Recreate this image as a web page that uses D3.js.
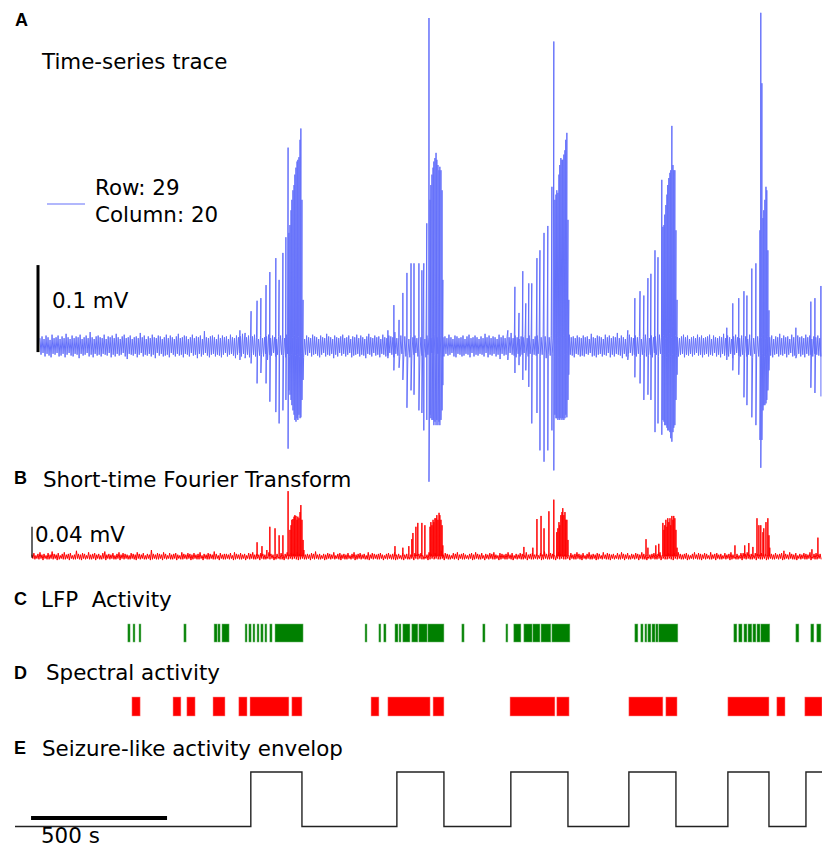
<!DOCTYPE html>
<html><head><meta charset="utf-8">
<script src="https://cdn.jsdelivr.net/npm/d3@7"></script>
<style>body{margin:0;background:#fff} svg{display:block} text{font-family:"DejaVu Sans",sans-serif;white-space:pre}</style>
</head><body><div id="chart"></div>
<script>
// ---------------- DATA ----------------
// Panel A: baseline noise of the time-series trace (µV), regularly sampled
const traceAStart = 92, traceAStep = 7.37; // s
const noiseAUp = [
9,11,8,12,10,7,13,9,10,12,8,11,9,14,10,8,12,9,11,10,13,8,10,12,9,16,10,8,11,12,
10,9,13,8,11,10,12,9,14,10,8,11,13,9,10,12,8,10,11,9,15,10,12,8,11,9,13,10,9,12,
11,8,10,13,9,12,10,8,11,14,9,10,12,11,8,10,13,9,11,10,12,8,17,10,9,11,12,10,8,13,
9,12,10,11,8,13,10,9,12,10,11,14,8,10,12,9,11,13,10,8,12,9,10,11,13,9,12,10,8,11,
12,10,9,13,11,8,10,12,9,11,15,10,8,12,10,9,13,11,10,8,12,10,9,14,11,10,8,12,10,9,
11,13,9,10,12,8,11,10,13,9,12,10,8,11,14,10,9,12,10,11,8,13,10,9,12,11,10,16,9,10,
12,9,11,10,8,13,10,12,9,11,10,14,8,12,10,9,11,13,10,8,12,10,11,9,13,10,8,12,11,9,
10,12,8,11,13,9,10,12,10,8,11,9,14,10,12,9,11,10,8,13,10,12,9,11,10,15,9,12,10,8,
11,10,13,9,12,10,8,11,12,9,10,13,11,8,10,12,9,14,10,11,9,12,10,8,13,10,11,9,12,10,
9,12,10,11,8,14,10,9,12,11,10,8,13,10,12,9,11,10,15,9,12,10,8,11,13,10,9,12,10,11,
8,11,13,10,9,12,10,11,8,13,10,12,9,11,14,10,8,12,10,9,11,13,10,12,8,10,11,9,13,10,
12,9,10,11,13,8,12,10,9,11,10,14,9,12,10,8,11,13,10,9,12,10,11,8,13,10,9,12,11,10,
10,13,9,11,10,12,8,11,10,14,9,12,10,11,8,13,10,9,12,10,11,9,13,10,12,8,11,10,12,9];
const noiseADown = [
10,8,12,9,11,13,9,10,8,12,11,9,13,10,8,11,12,9,10,14,9,11,10,8,12,10,13,9,11,10,
12,9,10,11,8,13,10,12,9,11,10,8,12,15,9,10,11,9,13,10,8,12,10,11,9,12,10,14,8,11,
9,12,11,10,13,8,10,12,9,11,10,13,9,10,12,8,11,10,14,9,12,10,8,11,13,10,9,12,10,11,
13,10,8,12,10,9,11,14,10,8,12,9,11,10,13,9,10,12,8,11,10,12,9,16,10,11,8,12,10,9,
10,11,13,9,12,10,8,11,10,12,9,13,10,11,8,12,10,9,11,13,10,8,12,10,11,9,14,10,12,8,
11,9,12,10,8,13,11,10,9,12,10,11,14,9,10,12,8,11,10,13,9,10,12,11,8,10,13,9,11,12,
9,10,12,11,13,9,10,8,12,10,11,9,13,10,12,8,11,10,9,14,10,12,9,11,10,8,12,13,9,10,
12,11,9,10,13,8,12,10,11,9,10,12,8,13,10,11,9,12,10,15,9,11,10,12,8,10,11,13,9,12,
10,8,11,12,9,13,10,11,9,12,10,8,14,10,11,9,12,10,13,8,11,10,9,12,10,11,13,9,10,12,
11,12,9,10,8,12,11,13,10,9,12,10,11,8,13,10,12,9,10,11,14,9,12,10,8,11,10,12,9,13,
10,9,12,11,10,13,8,10,12,9,11,10,13,9,12,10,8,11,12,10,9,13,10,11,9,12,10,8,11,10,
13,10,9,12,10,11,8,12,10,13,9,11,10,12,9,14,10,8,11,12,10,9,12,10,11,13,9,10,12,11,
9,12,10,8,11,13,10,9,12,10,11,9,13,10,8,12,11,10,9,12,10,13,9,11,10,12,9,10,11,12];
// Panel A: spikes (time s, positive peak µV, negative peak µV)
const spikeT = [
827,846,868,890,904,923,937,959,971,985,996,1004,1007,1011,1015,1018,1022,1026,1029,1033,1037,1040,1044,1048,1051,1055,1059,
1371,1393,1412,1426,1441,1456,1467,1485,1496,1503,1514,1522,1526,1529,1533,1537,1540,1544,1548,1551,1555,1559,1562,1566,1570,1573,
1812,1838,1853,1867,1878,1889,1900,1919,1930,1945,1959,1974,1981,1985,1989,1992,1996,2000,2003,2007,2011,2014,2018,2022,2025,2029,2033,2036,
2253,2279,2298,2312,2327,2338,2353,2364,2378,2382,2386,2389,2393,2397,2400,2404,2408,2411,2415,2419,2422,2426,2430,2434,
2617,2639,2661,2680,2691,2709,2724,2739,2742,2746,2750,2753,2757,2761,2764,2768,2772,
2871,2926,2941,2963];
const spikeUp = [
18,15,40,52,55,70,85,101,76,107,125,228,130,139,156,168,179,185,197,205,212,214,217,237,250,168,53,
18,47,30,61,84,95,95,95,87,95,141,377,168,185,197,205,212,216,222,214,208,202,206,202,179,76,
18,68,38,86,49,72,72,101,110,130,138,183,350,168,174,179,176,197,208,216,214,214,220,225,237,245,145,53,
18,55,63,58,78,83,110,102,191,137,139,151,162,174,185,193,199,202,253,208,202,202,133,53,
21,49,55,63,58,89,95,133,383,302,147,156,168,183,179,110,41,
21,51,55,69];
const spikeDown = [
16,14,20,43,31,43,64,76,89,74,62,118,51,56,62,68,74,79,85,87,83,85,79,83,82,62,39,
14,28,25,39,71,51,56,74,77,97,85,156,79,83,85,85,91,87,91,85,91,87,91,85,74,45,
16,31,22,39,28,47,89,77,120,133,120,97,143,79,83,83,85,83,85,83,85,83,85,83,79,82,62,33,
16,36,43,62,56,62,99,89,102,85,87,91,91,94,97,97,99,106,110,99,94,91,62,33,
16,28,33,59,68,82,91,108,140,108,74,68,68,66,62,51,28,
14,48,54,58];

// Panel B: short-time Fourier transform magnitude (µV), regularly sampled
const traceBStart = 62, traceBStep = 7.45;
const noiseBUp = [
3,5,2,4,6,3,4,2,5,3,7,4,3,5,2,4,6,3,4,5,2,3,8,4,3,5,4,2,6,3,
4,5,3,4,2,5,7,3,4,3,5,2,4,6,3,5,4,3,2,5,4,3,6,4,3,5,2,4,3,9,
4,3,5,4,3,6,4,2,5,3,4,5,3,2,6,4,3,5,4,3,5,3,4,6,2,4,3,5,4,3,
7,4,2,5,3,4,4,3,5,2,6,4,3,5,3,4,2,5,4,6,3,4,3,5,4,3,2,6,4,3,
5,4,3,5,2,4,6,3,5,4,3,6,4,2,5,3,4,3,5,4,7,3,4,2,4,3,5,4,3,6,
2,4,5,3,4,3,5,2,4,6,3,4,5,3,4,2,6,3,5,4,3,4,5,3,2,4,5,3,4,6,
3,4,2,5,3,4,6,3,4,5,3,4,5,2,4,3,6,4,3,5,2,4,8,3,5,4,3,2,5,4,
6,3,4,5,3,2,4,5,3,6,4,3,5,2,4,3,5,4,6,3,2,5,4,3,4,6,3,5,2,4,
3,5,4,2,6,3,4,5,3,4,2,5,3,7,4,3,5,4,2,3,6,4,5,3,4,2,5,3,4,6,
4,3,5,2,4,6,3,4,3,5,4,2,6,3,5,4,3,4,2,5,3,6,4,3,5,2,4,3,5,4,
3,6,4,2,5,3,4,5,3,4,6,2,4,3,5,4,3,5,2,6,4,3,4,5,3,2,4,6,3,5,
4,3,5,4,2,6,3,4,5,3,4,2,5,3,4,6,3,5,4,2,3,5,4,6,3,4,2,5,4,3,
5,3,4,2,6,4,3,5,3,4,5,2,4,3,6,4,3,5,2,4,3,5,4,3,6,2,4,5,3,4];
const noiseBDown = [
2,3,2,3,2,4,2,3,3,2,3,2,4,3,2,3,3,2,4,2,3,3,2,3,4,2,3,2,3,3,
2,4,2,3,3,2,4,2,3,2,3,3,2,4,2,3,2,3,3,2,3,4,2,3,2,3,3,2,4,3,
2,3,3,2,4,2,3,2,3,3,2,4,2,3,3,2,3,2,4,3,2,3,3,2,4,2,3,3,2,3,
3,2,4,2,3,3,2,3,2,4,3,2,3,3,2,4,2,3,2,3,3,2,4,2,3,3,2,3,2,4,
3,2,3,3,4,2,3,2,3,2,3,4,3,2,3,3,2,4,2,3,2,3,3,2,4,3,2,3,2,3,
2,3,4,2,3,3,2,3,2,4,3,2,3,2,3,3,4,2,3,2,3,3,2,4,2,3,2,3,3,4,
3,2,3,4,2,3,3,2,4,2,3,2,3,3,2,4,3,2,3,2,3,3,2,4,2,3,3,2,3,2,
4,2,3,3,2,3,2,4,3,2,3,3,2,4,2,3,2,3,3,2,4,3,2,3,3,2,3,4,2,3,
2,3,3,2,4,2,3,3,2,3,2,4,3,2,3,3,2,3,4,2,3,2,3,3,2,4,2,3,3,2,
3,4,2,3,2,3,3,2,4,3,2,3,2,3,3,4,2,3,2,3,3,2,4,2,3,3,2,3,2,4,
2,3,3,4,2,3,2,3,3,2,4,2,3,3,2,3,4,2,3,2,3,3,2,4,3,2,3,2,3,3,
4,2,3,2,3,3,2,4,2,3,3,2,3,2,4,3,2,3,3,2,4,2,3,2,3,3,2,4,2,3,
3,2,4,3,2,3,3,2,3,2,4,3,2,3,2,3,3,4,2,3,2,3,3,2,4,2,3,3,2,3];
const stftT = [
890,908,926,937,956,971,985,1004,1011,1015,1018,1022,1026,1029,1033,1037,1040,1044,1048,1051,1055,1059,1062,
1397,1426,1448,1459,1463,1474,1481,1496,1507,1526,1529,1533,1537,1540,1544,1548,1551,1555,1559,1562,1566,1570,1573,
1871,1904,1919,1934,1945,1963,1981,1992,1996,2000,2003,2007,2011,2014,2018,2022,2025,2029,2033,
2320,2327,2356,2367,2382,2386,2389,2393,2397,2400,2404,2408,2411,2415,2419,2422,2426,2430,2434,
2647,2669,2683,2698,2713,2728,2735,2742,2750,2753,2761,2768,2772,2775,
2827,2930,2952];
const stftV = [
19,14,9,39,37,28,28,85,35,41,48,49,52,54,53,48,52,50,58,67,48,22,9,
14,12,14,23,31,39,44,44,41,39,45,41,48,45,50,50,54,48,57,54,48,41,15,
13,12,49,53,37,59,74,32,37,45,41,54,58,63,54,58,48,48,22,
23,12,15,17,44,35,41,48,39,50,45,50,41,53,48,53,50,35,12,
15,5,15,18,13,50,41,41,32,37,45,50,28,12,
8,10,25];

// Panel C: LFP activity intervals [start s, end s]
const lfpActivity = [[415,423],[434,441],[456,463],[621,629],[732,743],[746,754],[761,787],
[846,853],[860,868],[875,882],[890,897],[904,912],[919,926],[937,945],[956,1059],
[1287,1294],[1338,1345],[1356,1364],[1397,1408],[1412,1419],[1426,1452],[1459,1481],[1485,1515],[1518,1577],
[1643,1651],[1720,1728],[1805,1812],[1834,1860],[1871,1901],[1904,1930],[1934,1970],[1974,2040],
[2279,2290],[2301,2309],[2316,2323],[2327,2338],[2342,2353],[2356,2364],[2367,2437],
[2643,2654],[2661,2673],[2680,2691],[2695,2709],[2713,2724],[2728,2739],[2742,2775],
[2871,2882],[2926,2937],[2948,2963]];
// Panel D: spectral activity intervals
const spectralActivity = [[430,460],[581,610],[632,662],[728,772],[823,853],[864,1007],[1018,1055],
[1309,1338],[1371,1526],[1537,1577],[1820,1985],[1992,2037],[2257,2382],[2393,2434],
[2621,2772],[2801,2831],[2904,2967]];
// Panel E: seizure-like activity envelope (step function)
const envTimes  = [0, 867, 1055, 1404, 1577, 1823, 2033, 2257, 2430, 2621, 2772, 2908, 2967];
const envValues = [0, 1, 0, 1, 0, 1, 0, 1, 0, 1, 0, 1, 1];

const legendRow = "Row: 29", legendCol = "Column: 20";
const scaleA = 100, scaleB = 40, scaleT = 500; // µV, µV, s

// ---------------- DRAW ----------------
const W = 822, H = 849;
const svg = d3.select("#chart").append("svg").attr("width", W).attr("height", H);

const x = d3.scaleLinear().domain([0, 2967]).range([15, 822]);
const yA = d3.scaleLinear().domain([0, 100]).range([346, 259]);
const yB = d3.scaleLinear().domain([0, 40]).range([557, 526]);
const yE = d3.scaleLinear().domain([0, 1]).range([826.5, 772]);

const blue = "#6470fa";
const FS = 21.4;

// Panel A trace
const ptsA = [];
noiseAUp.forEach((u, i) => {
  const t = traceAStart + i * traceAStep;
  ptsA.push({t, v: u});
  ptsA.push({t: t + traceAStep / 2, v: -noiseADown[i]});
});
spikeT.forEach((t, i) => {
  ptsA.push({t, v: spikeUp[i]});
  ptsA.push({t: t + 0.01, v: -spikeDown[i]});
});
ptsA.sort((a, b) => a.t - b.t);
const lineA = d3.line().x(d => x(d.t)).y(d => yA(d.v));
svg.append("path").attr("d", lineA(ptsA)).attr("fill", "none")
  .attr("stroke", blue).attr("stroke-width", 1);

// Panel B trace
const ptsB = [];
noiseBUp.forEach((u, i) => {
  const t = traceBStart + i * traceBStep;
  ptsB.push({t, v: u});
  ptsB.push({t: t + traceBStep / 2, v: -noiseBDown[i]});
});
stftT.forEach((t, i) => {
  ptsB.push({t: t - 0.4, v: 1});
  ptsB.push({t, v: stftV[i]});
  ptsB.push({t: t + 0.4, v: 1});
});
ptsB.sort((a, b) => a.t - b.t);
const lineB = d3.line().x(d => x(d.t)).y(d => yB(d.v));
svg.append("path").attr("d", lineB(ptsB)).attr("fill", "none")
  .attr("stroke", "#ff0000").attr("stroke-width", 1);

// Scale bars
const tA = x.invert(38);
svg.append("line").attr("x1", x(tA)).attr("x2", x(tA)).attr("y1", yA(-7)).attr("y2", yA(-7 + scaleA))
  .attr("stroke", "#000").attr("stroke-width", 3);
svg.append("text").attr("x", 52).attr("y", 308).attr("font-size", FS).text("0.1 mV");
const tB = x.invert(32);
svg.append("line").attr("x1", x(tB)).attr("x2", x(tB)).attr("y1", yB(-1)).attr("y2", yB(-1 + scaleB))
  .attr("stroke", "#000").attr("stroke-width", 1.2);
svg.append("text").attr("x", 35).attr("y", 542).attr("font-size", FS).text("0.04 mV");

// Legend
svg.append("line").attr("x1", 47).attr("x2", 85).attr("y1", 204).attr("y2", 204)
  .attr("stroke", blue).attr("stroke-width", 1.2);
svg.append("text").attr("x", 95).attr("y", 195).attr("font-size", FS).text(legendRow);
svg.append("text").attr("x", 95).attr("y", 222).attr("font-size", FS).text(legendCol);

// Panel C bars
svg.append("g").selectAll("rect").data(lfpActivity).join("rect")
  .attr("x", d => x(d[0])).attr("width", d => Math.max(1.5, x(d[1]) - x(d[0])))
  .attr("y", 624).attr("height", 18)
  .attr("fill", "#008000").attr("stroke", "#6fb86f").attr("stroke-width", 0.5);

// Panel D bars
svg.append("g").selectAll("rect").data(spectralActivity).join("rect")
  .attr("x", d => x(d[0])).attr("width", d => x(d[1]) - x(d[0]))
  .attr("y", 697).attr("height", 19)
  .attr("fill", "#ff0000").attr("stroke", "#ff8a8a").attr("stroke-width", 0.5);

// Panel E envelope
const envPts = envTimes.map((t, i) => ({t, v: envValues[i]}));
svg.append("path").attr("d", d3.line().curve(d3.curveStepAfter).x(d => x(d.t)).y(d => yE(d.v))(envPts))
  .attr("fill", "none").attr("stroke", "#222").attr("stroke-width", 1.4);
svg.append("line").attr("x1", x(59)).attr("x2", x(59 + scaleT)).attr("y1", 818).attr("y2", 818)
  .attr("stroke", "#000").attr("stroke-width", 4);
svg.append("text").attr("x", 41).attr("y", 843).attr("font-size", FS).text("500 s");

// Panel labels and titles
const labels = [["A", 15, 26], ["B", 14, 484], ["C", 14, 605], ["D", 14, 679], ["E", 14, 754]];
labels.forEach(([s, lx, ly]) => svg.append("text").attr("x", lx).attr("y", ly)
  .style("font-family", "Liberation Sans, Arial, sans-serif").attr("font-weight", "bold")
  .attr("font-size", 18).text(s));
const titles = [["Time-series trace", 42, 69], ["Short-time Fourier Transform", 43, 487],
  ["LFP  Activity", 41, 607], ["Spectral activity", 46, 680], ["Seizure-like activity envelop", 42, 756]];
titles.forEach(([s, tx, ty]) => svg.append("text").attr("x", tx).attr("y", ty)
  .attr("font-size", FS).text(s));
</script></body></html>
